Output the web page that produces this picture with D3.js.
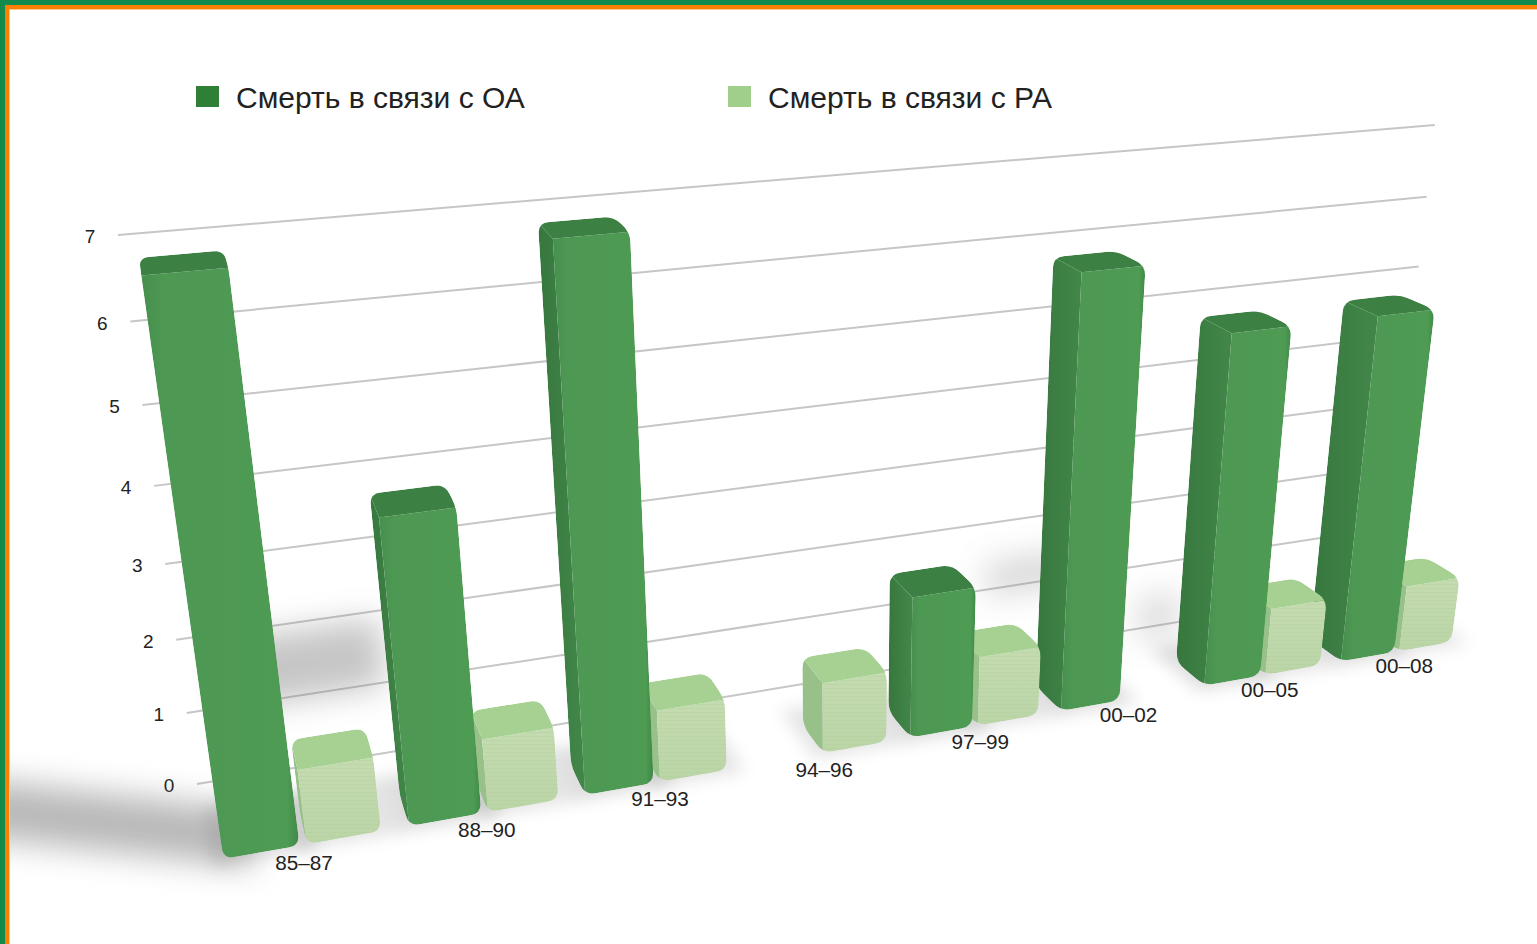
<!DOCTYPE html>
<html>
<head>
<meta charset="utf-8">
<script src="https://cdn.jsdelivr.net/npm/d3@7"></script>
<style>
html, body {margin: 0; padding: 0; background: #fff; overflow: hidden}
text {font-family: "Liberation Sans", Arial, sans-serif; fill: #222}
</style>
</head>
<body>
<svg></svg>
<script>
var categories = ['85–87', '88–90', '91–93', '94–96', '97–99', '00–02', '00–05', '00–08']
var oaValues = [7, 4, 7, 0, 2, 6, 5, 5]
var paValues = [1, 1, 1, 1, 1, 0, 1, 1]
var valueTicks = [0, 1, 2, 3, 4, 5, 6, 7]
var seriesNames = ['Смерть в связи с ОА', 'Смерть в связи с РА']

var width = 1537
var height = 944

var svg = d3.select('svg').attr('width', width).attr('height', height)
var defs = svg.append('defs')

// camera: the three vanishing points
var origin = [197, 784]
var vpAxis = [7014, -341]
var vpUp = [846, 5290]
var vpDepth = [70, -270]

// axis position and value are turned into perspective weights
var axisWeight = d3.scaleLinear().domain([0, 1]).range([0, 0.2104])
var valueWeight = d3.scaleLinear().domain([0, 7]).range([0, -0.1086])

function project(x, value, depth) {
	var a = axisWeight(x)
	var b = valueWeight(value)
	var w = 1 + a + b - depth
	return [
		(a * vpAxis[0] + b * vpUp[0] - depth * vpDepth[0] + origin[0]) / w,
		(a * vpAxis[1] + b * vpUp[1] - depth * vpDepth[1] + origin[1]) / w
	]
}

var groupScale = d3.scaleBand().domain(categories).range([0.011, 0.989]).paddingInner(0.167)
var seriesScale = d3.scaleBand().domain(['oa', 'pa']).range([0, groupScale.bandwidth() + 0.0015]).paddingInner(0.085)
var labelScale = d3.scalePoint().domain(categories).range([0.062, 0.929])

var barBack = 0.041
var barFront = 0.0689
var labelDepth = 0.083

var styles = {
	oa: {left: 'url(#oaLeft)', front: 'url(#oaFront)', top: '#3d8044'},
	pa: {left: '#98c189', front: 'url(#paFront)', top: '#a6d193'}
}

function addGradient(id, x2, y2, stops) {
	var g = defs.append('linearGradient').attr('id', id)
		.attr('x1', 0).attr('y1', 0).attr('x2', x2).attr('y2', y2)
	stops.forEach(function(s) {
		g.append('stop').attr('offset', s[0]).attr('stop-color', s[1])
	})
}
addGradient('oaFront', 1, 0, [[0, '#46904d'], [0.14, '#4d9853'], [0.92, '#4e9b54'], [1, '#3f8846']])
addGradient('oaLeft', 1, 0, [[0, '#37773e'], [1, '#428749']])
addGradient('paFront', 0, 1, [[0, '#c4dbb0'], [1, '#bbd5a7']])

var lines = defs.append('pattern').attr('id', 'paLines')
	.attr('width', 6).attr('height', 4).attr('patternUnits', 'userSpaceOnUse')
lines.append('rect').attr('width', 6).attr('height', 1).attr('fill', '#a9c794').attr('opacity', 0.25)

defs.append('filter').attr('id', 'blurBig').attr('x', '-50%').attr('y', '-100%').attr('width', '200%').attr('height', '300%')
	.append('feGaussianBlur').attr('stdDeviation', 16)
defs.append('filter').attr('id', 'blurSmall').attr('x', '-50%').attr('y', '-50%').attr('width', '200%').attr('height', '200%')
	.append('feGaussianBlur').attr('stdDeviation', 8)

var polyPath = d3.line()

// path through the points with the corners cut by a small curve
function roundedPath(points, r) {
	var n = points.length
	var path = ''
	points.forEach(function(p, i) {
		var prev = points[(i + n - 1) % n]
		var next = points[(i + 1) % n]
		var d1 = Math.hypot(prev[0] - p[0], prev[1] - p[1])
		var d2 = Math.hypot(next[0] - p[0], next[1] - p[1])
		var r1 = Math.min(r, d1 / 2)
		var r2 = Math.min(r, d2 / 2)
		var a = [p[0] + (prev[0] - p[0]) * r1 / d1, p[1] + (prev[1] - p[1]) * r1 / d1]
		var b = [p[0] + (next[0] - p[0]) * r2 / d2, p[1] + (next[1] - p[1]) * r2 / d2]
		path += (i ? 'L' : 'M') + a[0] + ',' + a[1] + 'Q' + p[0] + ',' + p[1] + ' ' + b[0] + ',' + b[1]
	})
	return path + 'Z'
}

var bars = []
categories.forEach(function(cat, i) {
	var start = groupScale(cat)
	bars.push({id: i + 'oa', series: 'oa', x0: start + seriesScale('oa'), value: oaValues[i]})
	bars.push({id: i + 'pa', series: 'pa', x0: start + seriesScale('pa'), value: paValues[i]})
})
bars = bars.filter(function(bar) {return bar.value > 0})

var frameClip = defs.append('clipPath').attr('id', 'inside')
frameClip.append('rect').attr('x', 9).attr('y', 9).attr('width', width).attr('height', height)

// gridlines with their tick labels
var gridGroup = svg.append('g').attr('class', 'grid')
gridGroup.selectAll('line')
	.data(valueTicks)
	.enter().append('line')
	.attr('x1', function(v) {return project(0, v, 0)[0]})
	.attr('y1', function(v) {return project(0, v, 0)[1]})
	.attr('x2', function(v) {return project(1, v, 0)[0]})
	.attr('y2', function(v) {return project(1, v, 0)[1]})
	.attr('stroke', '#c6c6c6')
	.attr('stroke-width', 2)

gridGroup.selectAll('text')
	.data(valueTicks)
	.enter().append('text')
	.text(function(v) {return v})
	.attr('x', function(v) {return project(0, v, 0)[0] - 28})
	.attr('y', function(v) {return project(0, v, 0)[1] + 8})
	.attr('text-anchor', 'middle')
	.attr('font-size', 19)

// soft shadows on the floor and the wall
var shadowGroup = svg.append('g').attr('class', 'shadows').attr('clip-path', 'url(#inside)')

function patch(x0, x1, v0, v1, d0, d1) {
	return polyPath([project(x0, v0, d0), project(x1, v0, d0), project(x1, v1, d1), project(x0, v1, d1)]) + 'Z'
}

// the long one running off to the left of the first bar
shadowGroup.append('path')
	.attr('d', polyPath([project(-0.15, 0, -0.038), project(0.03, 0, 0.03), project(0.03, 0, 0.08), project(-0.15, 0, 0.014)]) + 'Z')
	.attr('fill', '#777').attr('opacity', 0.52).attr('filter', 'url(#blurBig)')

shadowGroup.selectAll('path.wall')
	.data([
		[0.03, 0.14, 0.95, 1.9, 0.42],
		[0.62, 0.7, 0.9, 1.4, 0.3],
		[0.76, 0.8, -0.2, 0.5, 0.25]
	])
	.enter().append('path')
	.attr('class', 'wall')
	.attr('d', function(s) {return patch(s[0], s[1], s[2], s[3], 0, 0)})
	.attr('fill', '#777')
	.attr('opacity', function(s) {return s[4]})
	.attr('filter', 'url(#blurBig)')

shadowGroup.selectAll('path.bar')
	.data(bars)
	.enter().append('path')
	.attr('class', 'bar')
	.attr('d', function(bar) {
		var x1 = bar.x0 + seriesScale.bandwidth()
		return patch(bar.x0 - 0.008, x1 + 0.012, 0, 0, barBack - 0.018, barFront + 0.004)
	})
	.attr('fill', '#888')
	.attr('opacity', function(bar) {return bar.series === 'oa' ? 0.28 : 0.22})
	.attr('filter', 'url(#blurSmall)')

// bars, drawn from the right so that the left ones come out on top
var barGroup = svg.append('g').attr('class', 'bars')
var barElements = barGroup.selectAll('g')
	.data(bars.slice().reverse())
	.enter().append('g')

barElements.each(function(bar) {
	var x0 = bar.x0
	var x1 = bar.x0 + seriesScale.bandwidth()
	var v = bar.value
	var style = styles[bar.series]
	var frontFace = [project(x0, 0, barFront), project(x1, 0, barFront), project(x1, v, barFront), project(x0, v, barFront)]
	var leftFace = [project(x0, 0, barBack), project(x0, 0, barFront), project(x0, v, barFront), project(x0, v, barBack)]
	var topFace = [project(x0, v, barFront), project(x1, v, barFront), project(x1, v, barBack), project(x0, v, barBack)]
	var hull = d3.polygonHull(frontFace.concat(leftFace, topFace))

	defs.append('clipPath').attr('id', 'clip' + bar.id)
		.append('path').attr('d', roundedPath(hull, 11))

	var g = d3.select(this).attr('clip-path', 'url(#clip' + bar.id + ')')
	g.append('path').attr('d', polyPath(leftFace) + 'Z').attr('fill', style.left)
	g.append('path').attr('d', polyPath(frontFace) + 'Z').attr('fill', style.front)
	if (bar.series === 'pa') {
		g.append('path').attr('d', polyPath(frontFace) + 'Z').attr('fill', 'url(#paLines)')
	}
	g.append('path').attr('d', polyPath(topFace) + 'Z').attr('fill', style.top)
})

// category labels under the front edge
svg.append('g').attr('class', 'labels').selectAll('text')
	.data(categories)
	.enter().append('text')
	.text(function(cat) {return cat})
	.attr('x', function(cat) {return project(labelScale(cat), 0, labelDepth)[0]})
	.attr('y', function(cat) {return project(labelScale(cat), 0, labelDepth)[1] + 8})
	.attr('text-anchor', 'middle')
	.attr('font-size', 20.7)

// legend
var legendColor = d3.scaleOrdinal().domain(seriesNames).range(['#2f7f37', '#a0cf8b'])
var legendX = d3.scaleOrdinal().domain(seriesNames).range([196, 728])
var legend = svg.append('g').attr('class', 'legend').selectAll('g')
	.data(seriesNames)
	.enter().append('g')
	.attr('transform', function(name) {return 'translate(' + legendX(name) + ',0)'})
legend.append('rect')
	.attr('y', 86).attr('width', 23).attr('height', 21)
	.attr('fill', function(name) {return legendColor(name)})
legend.append('text')
	.text(function(name) {return name})
	.attr('x', 40).attr('y', 108)
	.attr('font-size', 30)

// the picture's frame, only along the top and the left
var frame = svg.append('g').attr('class', 'frame')
frame.append('rect').attr('width', width).attr('height', 10).attr('fill', '#ffc890')
frame.append('rect').attr('width', 10).attr('height', height).attr('fill', '#ffc890')
frame.append('rect').attr('width', width).attr('height', 9).attr('fill', '#fb8000')
frame.append('rect').attr('width', 9).attr('height', height).attr('fill', '#fb8000')
frame.append('rect').attr('width', width).attr('height', 5).attr('fill', '#128a4c')
frame.append('rect').attr('width', 5).attr('height', height).attr('fill', '#128a4c')
</script>
</body>
</html>
